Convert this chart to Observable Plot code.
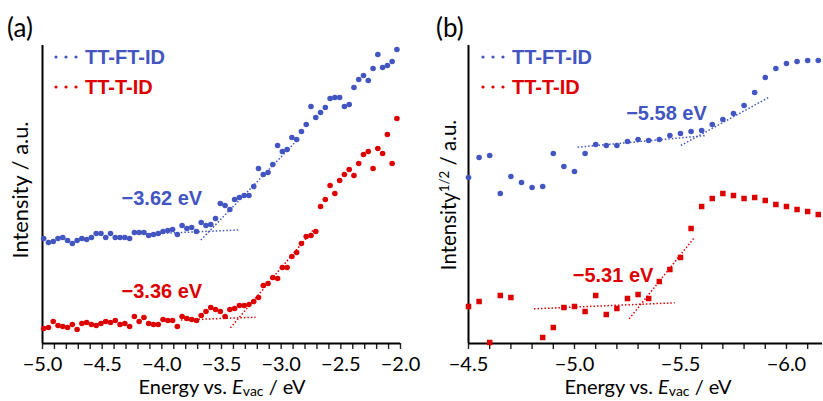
<!DOCTYPE html>
<html>
<head>
<meta charset="utf-8">
<script src="https://cdn.jsdelivr.net/npm/d3@7"></script>
<script src="https://cdn.jsdelivr.net/npm/@observablehq/plot@0.6"></script>
<style>
  html, body { margin: 0; padding: 0; background: #fff; }
  #wrap { position: relative; width: 823px; height: 401px; overflow: hidden; font-family: Lato, "Open Sans", sans-serif; color: #000; }
  #wrap svg { position: absolute; top: 0; }
  .abs { position: absolute; white-space: nowrap; line-height: 1; }
  .leg { font-family: "Liberation Sans", Arial, sans-serif; font-weight: bold; font-size: 20px; display: flex; align-items: center; transform: translateY(-50%); }
  .leg svg { position: static !important; margin-right: 7px; }
</style>
</head>
<body>
<div id="wrap"></div>
<script>
// ---------- data ----------
const seriesNames = ["TT-FT-ID", "TT-T-ID"];
const BLUE = "#4255c1", RED = "#dd0000";

// panel (a): energy (eV) and intensity (a.u.)
const energyA = [-4.99,-4.95,-4.91,-4.87,-4.83,-4.79,-4.75,-4.71,-4.67,-4.63,-4.59,-4.55,-4.51,-4.47,-4.43,-4.39,-4.35,-4.31,-4.27,-4.23,-4.19,-4.15,-4.11,-4.07,-4.03,-3.99,-3.95,-3.91,-3.87,-3.83,-3.79,-3.75,-3.71,-3.67,-3.63,-3.59,-3.55,-3.51,-3.47,-3.43,-3.39,-3.35,-3.31,-3.27,-3.23,-3.19,-3.15,-3.11,-3.07,-3.03,-2.99,-2.95,-2.91,-2.87,-2.83,-2.79,-2.75,-2.71,-2.67,-2.63,-2.59,-2.55,-2.51,-2.47,-2.43,-2.39,-2.35,-2.31,-2.27,-2.23,-2.19,-2.15,-2.11,-2.07,-2.03];
const ttftA = [1.05,1.01,1.02,1.05,1.06,1.03,1.00,1.03,1.05,1.04,
  1.06,1.10,1.10,1.06,1.10,1.06,1.06,1.06,1.05,1.11,
  1.11,1.11,1.08,1.09,1.10,1.12,1.13,1.14,1.09,1.18,
  1.15,1.16,1.12,1.21,1.18,1.19,1.25,1.40,1.38,1.34,
  1.44,1.46,1.48,1.48,1.57,1.75,1.69,1.71,1.79,1.98,
  1.92,1.94,2.06,2.04,2.12,2.19,2.37,2.26,2.31,2.36,
  2.45,2.46,2.46,2.37,2.39,2.56,2.64,2.68,2.63,2.75,
  2.89,2.76,2.78,2.82,2.94];
const tttA = [0.15,0.16,0.22,0.18,0.17,0.16,0.19,0.14,0.20,0.21,
  0.19,0.18,0.20,0.22,0.21,0.23,0.19,0.20,0.17,0.27,
  0.22,0.26,0.20,0.19,0.19,0.24,0.23,0.23,0.17,0.27,
  0.25,0.24,0.23,0.28,0.32,0.36,0.34,0.32,0.27,0.34,
  0.35,0.38,0.38,0.39,0.42,0.46,0.58,0.60,0.66,0.65,
  0.76,0.76,0.87,0.91,1.00,1.07,1.08,1.12,1.37,1.44,
  1.58,1.50,1.63,1.69,1.74,1.68,1.80,1.89,1.92,1.75,
  1.95,1.90,2.09,1.80,2.25];

// panel (b): energy (eV) and intensity^(1/2) (a.u.)
const energyB = [-4.50,-4.55,-4.60,-4.65,-4.70,-4.75,-4.80,-4.85,-4.90,-4.95,-5.00,-5.05,-5.10,-5.15,-5.20,-5.25,-5.30,-5.35,-5.40,-5.45,-5.50,-5.55,-5.60,-5.65,-5.70,-5.75,-5.80,-5.85,-5.90,-5.95,-6.00,-6.05,-6.10,-6.15];
const ttftB = [1.66,1.86,1.88,1.50,1.67,1.61,1.56,1.57,1.90,1.77,
  1.72,1.90,1.99,1.98,1.98,2.02,2.04,2.03,2.04,2.08,
  2.10,2.12,2.13,2.19,2.24,2.30,2.38,2.51,2.66,2.75,
  2.80,2.82,2.83,2.83];
const energyBred = [-4.50,-4.55,-4.60,-4.65,-4.70,-4.85,-4.90,-4.95,-5.00,-5.05,-5.10,-5.15,-5.20,-5.25,-5.30,-5.35,-5.40,-5.45,-5.50,-5.55,-5.60,-5.65,-5.70,-5.75,-5.80,-5.85,-5.90,-5.95,-6.00,-6.05,-6.10,-6.15];
const tttB = [0.37,0.42,0.01,0.48,0.46,
  0.06,0.16,0.36,0.37,0.32,0.48,0.29,0.35,0.45,0.49,0.45,0.62,0.74,0.86,1.15,
  1.37,1.45,1.50,1.48,1.45,1.46,1.43,1.39,1.37,1.34,1.32,1.29];

// fitted onset lines (endpoints)
const fitsA = [
  {series: "TT-FT-ID", x1: -4.134, y1: 1.095, x2: -3.356, y2: 1.135},
  {series: "TT-FT-ID", x1: -3.673, y1: 1.035, x2: -2.852, y2: 2.05},
  {series: "TT-T-ID",  x1: -3.84,  y1: 0.235, x2: -3.214, y2: 0.263},
  {series: "TT-T-ID",  x1: -3.425, y1: 0.157, x2: -2.728, y2: 1.14}
];
const fitsB = [
  {series: "TT-FT-ID", x1: -5.015, y1: 1.963, x2: -5.623, y2: 2.08},
  {series: "TT-FT-ID", x1: -5.502, y1: 1.98,  x2: -5.918, y2: 2.463},
  {series: "TT-T-ID",  x1: -4.809, y1: 0.347, x2: -5.473, y2: 0.407},
  {series: "TT-T-ID",  x1: -5.258, y1: 0.247, x2: -5.563, y2: 1.053}
];
const annotA = [
  {series: "TT-FT-ID", x: -4.0, y: 1.447, text: "−3.62 eV"},
  {series: "TT-T-ID",  x: -4.0, y: 0.523, text: "−3.36 eV"}
];
const annotB = [
  {series: "TT-FT-ID", x: -5.434, y: 2.297, text: "−5.58 eV"},
  {series: "TT-T-ID",  x: -5.182, y: 0.677, text: "−5.31 eV"}
];

// ticks
const majorA = [-5.0, -4.5, -4.0, -3.5, -3.0, -2.5, -2.0];
const minorA = [-4.9,-4.8,-4.7,-4.6,-4.4,-4.3,-4.2,-4.1,-3.9,-3.8,-3.7,-3.6,-3.4,-3.3,-3.2,-3.1,-2.9,-2.8,-2.7,-2.6,-2.4,-2.3,-2.2,-2.1];
const majorB = [-4.5, -5.0, -5.5, -6.0];
const minorB = [-4.6,-4.7,-4.8,-4.9,-5.1,-5.2,-5.3,-5.4,-5.6,-5.7,-5.8,-5.9,-6.1];

// ---------- build ----------
const ptsA = [
  ...energyA.map((x, i) => ({series: "TT-FT-ID", x, y: ttftA[i]})),
  ...energyA.map((x, i) => ({series: "TT-T-ID", x, y: tttA[i]}))
];
const blueB = energyB.map((x, i) => ({series: "TT-FT-ID", x, y: ttftB[i]}));
const redB = energyBred.map((x, i) => ({series: "TT-T-ID", x, y: tttB[i]}));

const fmt = d3.format(".1f");
const TICKFONT = 20;
const color = {domain: seriesNames, range: [BLUE, RED]};
const common = {
  height: 401, marginTop: 45, marginBottom: 58,
  y: {domain: [0, 2.98], axis: null},
  color,
  style: {fontFamily: "Lato, 'Open Sans', sans-serif", fontSize: TICKFONT + "px", color: "#000", background: "transparent", overflow: "visible"}
};
const dotted = {strokeWidth: 1.5, strokeDasharray: "1.5,2"};
const annotStyle = {fontFamily: "'Liberation Sans', Arial, sans-serif", fontWeight: "bold", fontSize: 20, textAnchor: "middle"};

const left = Plot.plot({
  ...common,
  width: 410, marginLeft: 42, marginRight: 10,
  x: {domain: [-5, -2]},
  marks: [
    Plot.axisX({ticks: minorA, tickSize: 6, tickFormat: () => "", stroke: "#222", strokeWidth: 1.4, label: null}),
    Plot.axisX({ticks: majorA, tickSize: 6, tickPadding: 7, tickFormat: fmt, stroke: "#222", strokeWidth: 1.4, fill: "#000", fontSize: TICKFONT, label: null}),
    Plot.ruleX([-5], {stroke: "#000", strokeWidth: 2}),
    Plot.ruleY([0], {stroke: "#000", strokeWidth: 2}),
    Plot.link(fitsA, {x1: "x1", y1: "y1", x2: "x2", y2: "y2", stroke: "series", ...dotted}),
    Plot.dot(ptsA, {x: "x", y: "y", fill: "series", r: 2.8}),
    Plot.text(annotA, {x: "x", y: "y", text: "text", fill: "series", ...annotStyle})
  ]
});

const right = Plot.plot({
  ...common,
  width: 413, marginLeft: 58, marginRight: 1,
  x: {domain: [-4.5, -6.17]},
  marks: [
    Plot.axisX({ticks: minorB, tickSize: 6, tickFormat: () => "", stroke: "#222", strokeWidth: 1.4, label: null}),
    Plot.axisX({ticks: majorB, tickSize: 6, tickPadding: 7, tickFormat: fmt, stroke: "#222", strokeWidth: 1.4, fill: "#000", fontSize: TICKFONT, label: null}),
    Plot.ruleX([-4.5], {stroke: "#000", strokeWidth: 2}),
    Plot.ruleY([0], {stroke: "#000", strokeWidth: 2}),
    Plot.link(fitsB, {x1: "x1", y1: "y1", x2: "x2", y2: "y2", stroke: "series", ...dotted}),
    Plot.dot(blueB, {x: "x", y: "y", fill: "series", r: 2.8}),
    Plot.dot(redB, {x: "x", y: "y", fill: "series", r: 3.1, symbol: "square"}),
    Plot.text(annotB, {x: "x", y: "y", text: "text", fill: "series", ...annotStyle})
  ]
});

const wrap = document.getElementById("wrap");
left.style.left = "0px";
right.style.left = "410px";
wrap.appendChild(left);
wrap.appendChild(right);

// ---------- overlay text ----------
function add(html, css, targetWidth) {
  const d = document.createElement("div");
  d.className = "abs";
  d.innerHTML = html;
  Object.assign(d.style, css);
  wrap.appendChild(d);
  if (targetWidth) {
    const fs = parseFloat(getComputedStyle(d).fontSize);
    d.style.fontSize = (fs * targetWidth / d.offsetWidth).toFixed(2) + "px";
  }
  return d;
}
function legendEntry(name, col, x, y) {
  const dots = `<svg width="24" height="6" viewBox="0 0 24 6"><circle cx="2" cy="3" r="1.6" fill="${col}"/><circle cx="12" cy="3" r="1.6" fill="${col}"/><circle cx="22" cy="3" r="1.6" fill="${col}"/></svg>`;
  const d = add(dots + `<span>${name}</span>`, {left: x + "px", top: y + "px", color: col});
  d.classList.add("leg");
}
// panel letters
add("(a)", {left: "7px", top: "27px", fontSize: "26px", transform: "translateY(-50%)"});
add("(b)", {left: "436px", top: "27px", fontSize: "26px", transform: "translateY(-50%)"});
// legends
legendEntry(seriesNames[0], BLUE, 54, 57);
legendEntry(seriesNames[1], RED, 54, 87);
legendEntry(seriesNames[0], BLUE, 481, 57);
legendEntry(seriesNames[1], RED, 481, 87);
// axis titles
const xl = 'Energy vs. <i>E</i><sub style="font-size:0.7em;vertical-align:-0.15em;line-height:1">vac</sub> / eV';
add(xl, {left: "222px", top: "387px", fontSize: "20px", transform: "translate(-50%,-50%)"}, 167);
add(xl, {left: "648px", top: "387px", fontSize: "20px", transform: "translate(-50%,-50%)"}, 167);
add("Intensity / a.u.", {left: "20px", top: "190px", fontSize: "21px", transform: "translate(-50%,-50%) rotate(-90deg)"}, 137);
add('Intensity<sup style="font-size:0.65em;vertical-align:0.5em">1/2</sup> / a.u.', {left: "448px", top: "195px", fontSize: "21px", transform: "translate(-50%,-50%) rotate(-90deg)"}, 150);
</script>
</body>
</html>
